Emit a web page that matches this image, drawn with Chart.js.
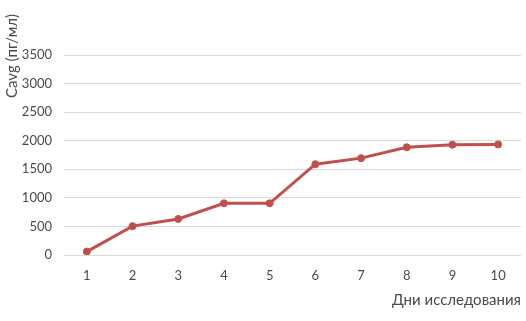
<!DOCTYPE html>
<html>
<head>
<meta charset="utf-8">
<script src="https://cdn.jsdelivr.net/npm/chart.js@4/dist/chart.umd.min.js"></script>
<style>
  html, body { margin:0; padding:0; background:#fff; }
  #wrap { width:526px; height:321px; position:relative; }
</style>
</head>
<body>
<div id="wrap"><canvas id="c"></canvas></div>
<script>
// data
const days   = ['1','2','3','4','5','6','7','8','9','10'];
const cavg   = [60, 505, 630, 905, 905, 1590, 1695, 1885, 1930, 1935];
const yTicks = [0, 500, 1000, 1500, 2000, 2500, 3000, 3500];

const yTitle = 'Cavg (пг/мл)';
const xTitle = 'Дни исследования';
const lineColor = '#c0504d';
const textColor = '#4a4a4a';
const fontFam = 'Lato, "Noto Sans", sans-serif';

// y axis title sits above the plot, so draw it by hand
const yTitlePlugin = {
  id: 'yTitle',
  afterDraw(chart) {
    const ctx = chart.ctx;
    ctx.save();
    ctx.translate(12, 56);
    ctx.rotate(-Math.PI / 2);
    ctx.font = '15px ' + fontFam;
    ctx.fillStyle = textColor;
    ctx.textAlign = 'center';
    ctx.textBaseline = 'middle';
    ctx.fillText(yTitle, 0, 0);
    ctx.restore();
  }
};

new Chart(document.getElementById('c'), {
  type: 'line',
  data: {
    labels: days,
    datasets: [{
      data: cavg,
      borderColor: lineColor,
      backgroundColor: lineColor,
      borderWidth: 3,
      pointRadius: 3.5,
      pointBorderWidth: 1,
      tension: 0
    }]
  },
  options: {
    responsive: true,
    maintainAspectRatio: false,
    animation: false,
    layout: { padding: { top: 55, right: 0, left: 0, bottom: 0 } },
    plugins: { legend: { display: false }, tooltip: { enabled: false } },
    scales: {
      x: {
        offset: true,
        grid: { display: false, drawTicks: false },
        border: { display: false },
        ticks: { color: textColor, font: { family: fontFam, size: 13 }, padding: 13, maxRotation: 0 },
        title: { display: true, text: xTitle, align: 'end', color: textColor,
                 font: { family: fontFam, size: 15 }, padding: { top: 0, bottom: 12 } },
        afterFit: s => { s.height = 66; }
      },
      y: {
        min: 0, max: 3500,
        afterBuildTicks: s => { s.ticks = yTicks.map(v => ({ value: v })); },
        grid: { color: '#d9d9d9', lineWidth: 1, drawTicks: false },
        border: { display: false },
        ticks: { color: textColor, font: { family: fontFam, size: 13 }, padding: 12,
                 callback: v => String(v) },
        afterFit: s => { s.width = 64; }
      }
    }
  },
  plugins: [yTitlePlugin]
});
</script>
</body>
</html>
